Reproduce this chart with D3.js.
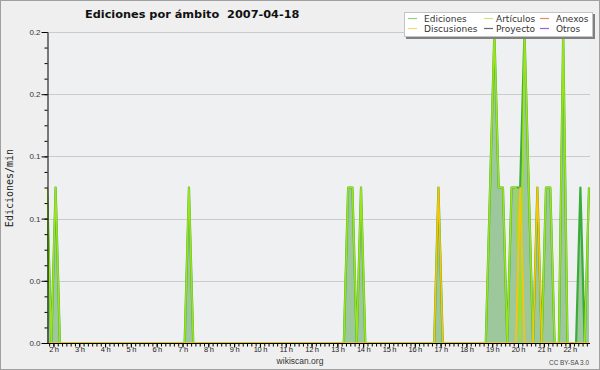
<!DOCTYPE html>
<html>
<head>
<meta charset="utf-8">
<script src="https://cdn.jsdelivr.net/npm/d3@7"></script>
<style>
  body { margin: 0; background: #efefef; }
  svg { display: block; }
</style>
</head>
<body>
<svg id="chart" width="600" height="370"></svg>
<script>
// 10 minute bins, first bin at 01:45
const startMin = 105;
const stepMin = 10;

// edits per minute, one value per bin (127 bins)
const ediciones = [
  0.1, 0, 0.1, 0, 0, 0, 0, 0, 0, 0,
  0, 0, 0, 0, 0, 0, 0, 0, 0, 0,
  0, 0, 0, 0, 0, 0, 0, 0, 0, 0,
  0, 0, 0, 0.1, 0, 0, 0, 0, 0, 0,
  0, 0, 0, 0, 0, 0, 0, 0, 0, 0,
  0, 0, 0, 0, 0, 0, 0, 0, 0, 0,
  0, 0, 0, 0, 0, 0, 0, 0, 0, 0,
  0.1, 0.1, 0, 0.1, 0, 0, 0, 0, 0, 0,
  0, 0, 0, 0, 0, 0, 0, 0, 0, 0,
  0, 0.1, 0, 0, 0, 0, 0, 0, 0, 0,
  0, 0, 0, 0.1, 0.2, 0.1, 0.1, 0, 0.1, 0.1,
  0.1, 0.2, 0.1, 0, 0.1, 0, 0.1, 0.1, 0, 0,
  0.2, 0, 0, 0, 0.1, 0, 0.1
];
const articulos = [
  0.1, 0, 0.1, 0, 0, 0, 0, 0, 0, 0,
  0, 0, 0, 0, 0, 0, 0, 0, 0, 0,
  0, 0, 0, 0, 0, 0, 0, 0, 0, 0,
  0, 0, 0, 0.1, 0, 0, 0, 0, 0, 0,
  0, 0, 0, 0, 0, 0, 0, 0, 0, 0,
  0, 0, 0, 0, 0, 0, 0, 0, 0, 0,
  0, 0, 0, 0, 0, 0, 0, 0, 0, 0,
  0.1, 0.1, 0, 0.1, 0, 0, 0, 0, 0, 0,
  0, 0, 0, 0, 0, 0, 0, 0, 0, 0,
  0, 0, 0, 0, 0, 0, 0, 0, 0, 0,
  0, 0, 0, 0.1, 0.2, 0.1, 0.1, 0, 0.1, 0.1,
  0, 0.2, 0.1, 0, 0, 0, 0.1, 0.1, 0, 0,
  0.2, 0, 0, 0, 0, 0, 0.1
];
const discusiones = [
  0, 0, 0, 0, 0, 0, 0, 0, 0, 0,
  0, 0, 0, 0, 0, 0, 0, 0, 0, 0,
  0, 0, 0, 0, 0, 0, 0, 0, 0, 0,
  0, 0, 0, 0, 0, 0, 0, 0, 0, 0,
  0, 0, 0, 0, 0, 0, 0, 0, 0, 0,
  0, 0, 0, 0, 0, 0, 0, 0, 0, 0,
  0, 0, 0, 0, 0, 0, 0, 0, 0, 0,
  0, 0, 0, 0, 0, 0, 0, 0, 0, 0,
  0, 0, 0, 0, 0, 0, 0, 0, 0, 0,
  0, 0.1, 0, 0, 0, 0, 0, 0, 0, 0,
  0, 0, 0, 0, 0, 0, 0, 0, 0, 0,
  0.1, 0, 0, 0, 0.1, 0, 0, 0, 0, 0,
  0, 0, 0, 0, 0, 0, 0
];
// no edits in these namespaces that day
const anexos = [];
const proyecto = [];
const otros = [];

const legendNames = [['Ediciones', 'Discusiones'], ['Artículos', 'Proyecto'], ['Anexos', 'Otros']];
const legendColors = [['#92cf92', '#f7da70'], ['#cbe77a', '#666666'], ['#e98a62', '#9a60e6']];
const yTicks = [0, 0.04, 0.08, 0.12, 0.16, 0.2];
const hourTicks = d3.range(2, 23);

function draw() {
  let svg = d3.select('#chart');
  let width = +svg.attr('width');
  let height = +svg.attr('height');
  let plot = { left: 47, right: 589, top: 32, bottom: 343 };

  svg.append('rect')
    .attr('x', 0.5).attr('y', 0.5)
    .attr('width', width - 1).attr('height', height - 1)
    .attr('fill', '#efefef')
    .attr('stroke', '#a0a0a0');

  svg.append('rect')
    .attr('x', plot.left).attr('y', plot.top)
    .attr('width', plot.right - plot.left).attr('height', plot.bottom - plot.top)
    .attr('fill', '#eef0f2');

  let times = ediciones.map(function(d, i) { return startMin + i * stepMin; });
  let x = d3.scaleLinear()
    .domain([times[0], times[times.length - 1]])
    .range([plot.left, plot.right]);
  let y = d3.scaleLinear()
    .domain([0, 0.2])
    .range([plot.bottom, plot.top]);

  // grid
  svg.append('g')
    .selectAll('line')
    .data(yTicks.slice(1))
    .enter()
    .append('line')
    .attr('x1', plot.left).attr('x2', plot.right + 1)
    .attr('y1', function(d) { return Math.round(y(d)) + 0.5; })
    .attr('y2', function(d) { return Math.round(y(d)) + 0.5; })
    .attr('stroke', '#cbcbcb');

  svg.append('clipPath').attr('id', 'clip')
    .append('rect')
    .attr('x', plot.left).attr('y', plot.top - 2)
    .attr('width', plot.right - plot.left + 2).attr('height', plot.bottom - plot.top + 2);

  let g = svg.append('g').attr('clip-path', 'url(#clip)');

  let area = d3.area()
    .x(function(d, i) { return x(times[i]); })
    .y0(y(0))
    .y1(function(d) { return y(d); });
  let line = d3.line()
    .x(function(d, i) { return x(times[i]); })
    .y(function(d) { return y(d); });

  g.append('path')
    .datum(ediciones)
    .attr('d', area)
    .attr('fill', '#9dc89c');

  let series = [
    { values: ediciones, color: '#3aac3a', w: 2.2 },
    { values: articulos, color: '#9ee31a', w: 1.6 },
    { values: anexos, color: '#ee7040', w: 1.6 },
    { values: proyecto, color: '#555555', w: 1.6 },
    { values: otros, color: '#9040ee', w: 1.6 },
    { values: discusiones, color: '#ffc400', w: 1.6 },
  ];
  series.forEach(function(s) {
    if (!s.values.length) return;
    g.append('path')
      .datum(s.values)
      .attr('d', line)
      .attr('fill', 'none')
      .attr('stroke', s.color)
      .attr('stroke-width', s.w)
      .attr('stroke-linejoin', 'round');
  });

  // y axis
  let yMinor = svg.append('g')
    .attr('transform', 'translate(' + (plot.left + 0.5) + ',0)')
    .call(d3.axisLeft(y).tickValues(d3.range(0, 0.2001, 0.01)).tickSize(3).tickFormat(''));
  yMinor.select('.domain').remove();
  let yAxis = svg.append('g')
    .attr('transform', 'translate(' + (plot.left + 0.5) + ',0)')
    .call(d3.axisLeft(y).tickValues(yTicks).tickSize(6).tickSizeOuter(0).tickPadding(1).tickFormat(d3.format('.1f')));
  yAxis.selectAll('text')
    .attr('font-family', 'Liberation Sans, Arial, sans-serif')
    .attr('font-size', 8)
    .attr('fill', '#333');

  // x axis
  let xMinor = svg.append('g')
    .attr('transform', 'translate(0,' + (plot.bottom + 0.5) + ')')
    .call(d3.axisBottom(x).tickValues(d3.range(110, times[times.length - 1] + 1, 10)).tickSize(3).tickFormat(''));
  xMinor.select('.domain').remove();
  let xAxis = svg.append('g')
    .attr('transform', 'translate(0,' + (plot.bottom + 0.5) + ')')
    .call(d3.axisBottom(x).tickValues(hourTicks.map(function(h) { return h * 60; }))
      .tickSize(4).tickSizeOuter(0)
      .tickFormat(function(m) { return (m / 60) + ' h'; }));
  xAxis.select('.domain').attr('d', 'M' + plot.left + ',0H' + (plot.right + 1));
  xAxis.selectAll('text')
    .attr('y', 3)
    .attr('font-family', 'Liberation Sans, Arial, sans-serif')
    .attr('font-size', 7.5)
    .attr('letter-spacing', -0.3)
    .attr('fill', '#222');

  // title and labels
  svg.append('text')
    .attr('x', 85).attr('y', 18)
    .attr('font-family', 'DejaVu Sans, sans-serif')
    .attr('font-weight', 'bold')
    .attr('font-size', 11.3)
    .style('white-space', 'pre')
    .attr('fill', '#111')
    .text('Ediciones por ámbito  2007-04-18');

  svg.append('text')
    .attr('transform', 'translate(13,188) rotate(-90)')
    .attr('text-anchor', 'middle')
    .attr('font-family', 'DejaVu Sans Mono, monospace')
    .attr('font-size', 10)
    .attr('fill', '#222')
    .text('Ediciones/min');

  svg.append('text')
    .attr('x', 300).attr('y', 364)
    .attr('text-anchor', 'middle')
    .attr('font-family', 'Liberation Sans, Arial, sans-serif')
    .attr('font-size', 8.5)
    .attr('fill', '#333')
    .text('wikiscan.org');

  svg.append('text')
    .attr('x', 589).attr('y', 365)
    .attr('text-anchor', 'end')
    .attr('font-family', 'Liberation Sans, Arial, sans-serif')
    .attr('font-size', 6.4)
    .attr('fill', '#444')
    .text('CC BY-SA 3.0');

  // legend
  let lg = svg.append('g');
  lg.append('rect')
    .attr('x', 406).attr('y', 14)
    .attr('width', 189).attr('height', 25)
    .attr('fill', '#808080');
  lg.append('rect')
    .attr('x', 404.5).attr('y', 12.5)
    .attr('width', 188).attr('height', 24)
    .attr('fill', '#fff')
    .attr('stroke', '#c4c4c4');
  let colX = [408, 484, 540];
  let textX = [424, 496, 556];
  let rowY = [18.5, 28.5];
  legendNames.forEach(function(col, c) {
    col.forEach(function(name, r) {
      lg.append('line')
        .attr('x1', colX[c]).attr('x2', colX[c] + 9)
        .attr('y1', rowY[r]).attr('y2', rowY[r])
        .attr('stroke', legendColors[c][r])
        .attr('stroke-width', 1.2);
      lg.append('text')
        .attr('x', textX[c]).attr('y', rowY[r] + 3.3)
        .attr('font-family', 'DejaVu Sans, sans-serif')
        .attr('font-size', 9)
        .attr('fill', '#333')
        .text(name);
    });
  });
}

draw();
</script>
</body>
</html>
